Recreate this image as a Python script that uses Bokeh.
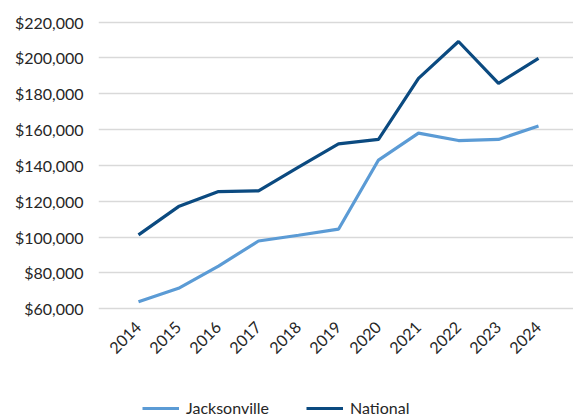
import math
from bokeh.plotting import figure
from bokeh.layouts import column
from bokeh.models import (Range1d, FixedTicker, NumeralTickFormatter, Legend, LegendItem)
from bokeh.embed import file_html
from bokeh.resources import INLINE

years = [2014, 2015, 2016, 2017, 2018, 2019, 2020, 2021, 2022, 2023, 2024]
jacksonville = [63900, 71400, 83800, 97800, 101000, 104400, 143000, 158000, 153900, 154500, 162000]
national = [101200, 117000, 125400, 125800, 139000, 152000, 154500, 188600, 209200, 185800, 199800]
y_ticks = [60000, 80000, 100000, 120000, 140000, 160000, 180000, 200000, 220000]
series_names = ["Jacksonville", "National"]
series_colors = ["#5B9BD5", "#0B4A80"]

FONT = "Lato"
TXT = "#262626"
FS = "16px"

p = figure(width=573, height=390, output_backend="svg", toolbar_location=None,
           x_range=Range1d(2013, 2024.875), y_range=Range1d(59000, 226500),
           min_border_left=98, min_border_right=0, min_border_top=10, min_border_bottom=80)
p.outline_line_color = None
p.background_fill_color = "white"
p.border_fill_color = "white"

p.line(years, jacksonville, line_color=series_colors[0], line_width=3.2)
p.line(years, national, line_color=series_colors[1], line_width=3.2)

p.xgrid.grid_line_color = None
p.ygrid.ticker = FixedTicker(ticks=y_ticks)
p.ygrid.grid_line_color = "#d9d9d9"
p.ygrid.grid_line_width = 1.5

p.yaxis.ticker = FixedTicker(ticks=y_ticks)
p.yaxis.formatter = NumeralTickFormatter(format="$0,0")
p.yaxis.axis_line_color = None
p.yaxis.major_tick_line_color = None
p.yaxis.minor_tick_line_color = None
p.yaxis.major_label_text_font = FONT
p.yaxis.major_label_text_font_size = FS
p.yaxis.major_label_text_color = TXT
p.yaxis.major_label_standoff = 9

p.xaxis.ticker = FixedTicker(ticks=years)
p.xaxis.axis_line_color = None
p.xaxis.major_tick_line_color = None
p.xaxis.minor_tick_line_color = None
p.xaxis.major_label_orientation = math.pi / 4
p.xaxis.major_label_text_font = FONT
p.xaxis.major_label_text_font_size = FS
p.xaxis.major_label_text_color = TXT
p.xaxis.major_label_standoff = 8

# legend strip below the chart (its renderers lie outside its visible range)
lg = figure(width=573, height=27, output_backend="svg", toolbar_location=None,
            x_axis_type=None, y_axis_type=None,
            x_range=Range1d(0, 1), y_range=Range1d(0, 1),
            min_border_left=0, min_border_right=0, min_border_top=0, min_border_bottom=0)
lg.outline_line_color = None
lg.grid.visible = False
r1 = lg.line([5, 6], [5, 6], line_color=series_colors[0], line_width=3.2)
r2 = lg.line([5, 6], [5, 6], line_color=series_colors[1], line_width=3.2)
legend = Legend(items=[LegendItem(label=series_names[0], renderers=[r1]),
                       LegendItem(label=series_names[1], renderers=[r2])],
                orientation="horizontal", location=(44, 0),
                label_text_font=FONT, label_text_font_size=FS, label_text_color=TXT,
                glyph_width=37, glyph_height=16, label_standoff=7, spacing=37,
                border_line_color=None, background_fill_alpha=0,
                margin=0, padding=0)
lg.add_layout(legend, "center")

open("out.html", "w").write(file_html(column(p, lg, spacing=0), INLINE))
